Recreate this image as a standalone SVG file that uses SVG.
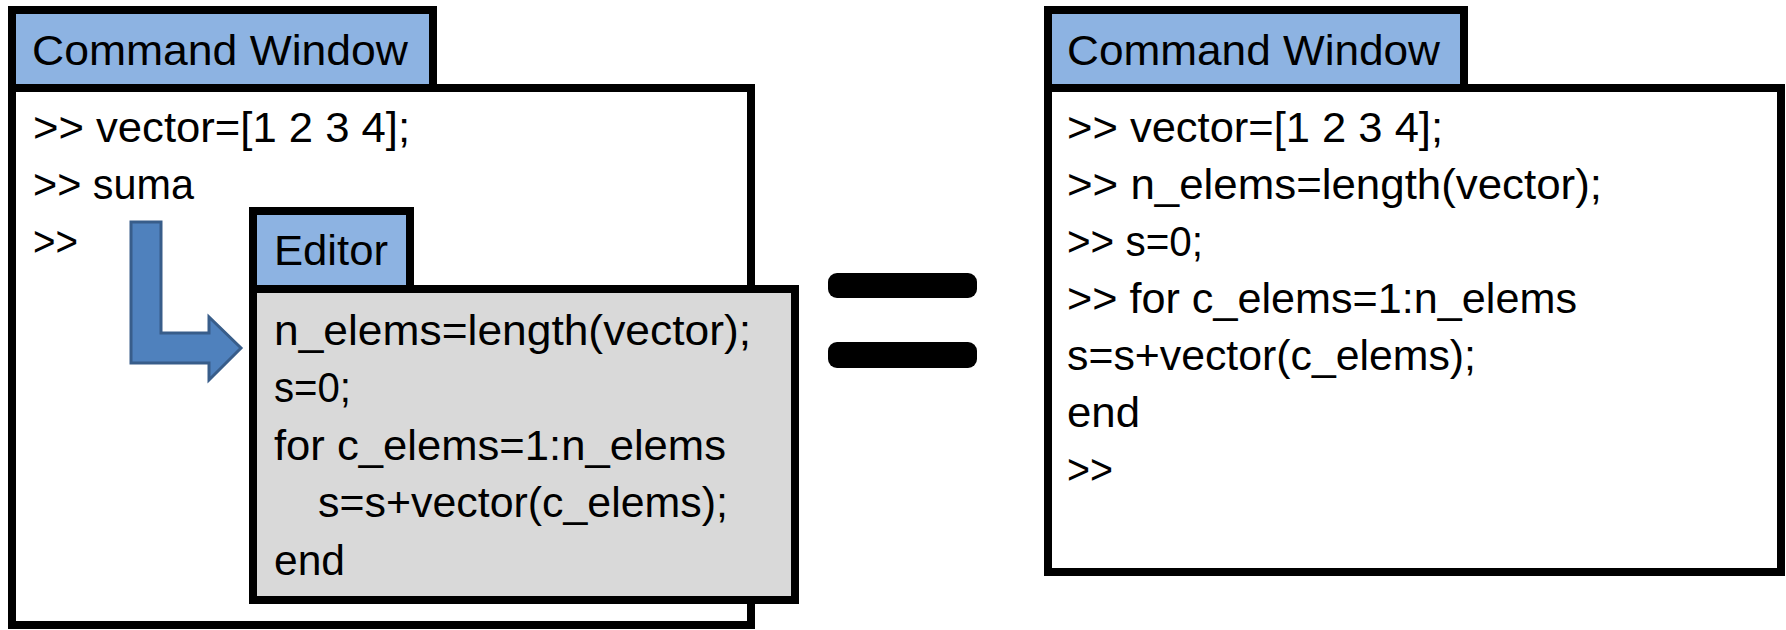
<svg xmlns="http://www.w3.org/2000/svg" width="1786" height="630" viewBox="0 0 1786 630">
<style>
.tab{fill:#8db3e2;stroke:#000;stroke-width:8}
.body{fill:#fff;stroke:#000;stroke-width:8}
.ebody{fill:#d9d9d9;stroke:#000;stroke-width:8}
text{font-family:"Liberation Sans",Arial,sans-serif;font-size:43px;fill:#000}
.eq{fill:#000}
</style>
<rect width="1786" height="630" fill="#fff"/>
<g id="left-command-window">
<rect class="tab" x="12" y="10" width="421" height="78"/>
<rect class="body" x="12" y="88" width="739" height="537"/>
<text x="32" y="65" textLength="376" lengthAdjust="spacingAndGlyphs">Command Window</text>
<text x="33" y="142" textLength="377" lengthAdjust="spacingAndGlyphs">&gt;&gt; vector=[1 2 3 4];</text>
<text x="33" y="199" textLength="161" lengthAdjust="spacingAndGlyphs">&gt;&gt; suma</text>
<text x="33" y="256" textLength="45" lengthAdjust="spacingAndGlyphs">&gt;&gt;</text>
</g>
<g id="editor">
<rect class="tab" x="253" y="211" width="157" height="78"/>
<rect class="ebody" x="253" y="289" width="542" height="311"/>
<text x="274" y="265" textLength="114" lengthAdjust="spacingAndGlyphs">Editor</text>
<text x="274" y="345" textLength="477" lengthAdjust="spacingAndGlyphs">n_elems=length(vector);</text>
<text x="274" y="402" textLength="77" lengthAdjust="spacingAndGlyphs">s=0;</text>
<text x="274" y="460" textLength="452" lengthAdjust="spacingAndGlyphs">for c_elems=1:n_elems</text>
<text x="318" y="517" textLength="410" lengthAdjust="spacingAndGlyphs">s=s+vector(c_elems);</text>
<text x="274" y="575" textLength="71" lengthAdjust="spacingAndGlyphs">end</text>
</g>
<g id="connectors">
<polygon points="131,222 161,222 161,333 209,333 209,317 241,348 209,380 209,363 131,363" fill="#4f81bd" stroke="#385d8a" stroke-width="3" stroke-linejoin="miter"/>
</g>
<g id="equals">
<rect class="eq" x="828" y="273" width="149" height="25" rx="9"/>
<rect class="eq" x="828" y="342" width="149" height="26" rx="9"/>
</g>
<g id="right-command-window">
<rect class="tab" x="1048" y="10" width="416" height="78"/>
<rect class="body" x="1048" y="88" width="733" height="484"/>
<text x="1067" y="65" textLength="373" lengthAdjust="spacingAndGlyphs">Command Window</text>
<text x="1067" y="142" textLength="376" lengthAdjust="spacingAndGlyphs">&gt;&gt; vector=[1 2 3 4];</text>
<text x="1067" y="199" textLength="535" lengthAdjust="spacingAndGlyphs">&gt;&gt; n_elems=length(vector);</text>
<text x="1067" y="256" textLength="136" lengthAdjust="spacingAndGlyphs">&gt;&gt; s=0;</text>
<text x="1067" y="313" textLength="510" lengthAdjust="spacingAndGlyphs">&gt;&gt; for c_elems=1:n_elems</text>
<text x="1067" y="370" textLength="409" lengthAdjust="spacingAndGlyphs">s=s+vector(c_elems);</text>
<text x="1067" y="427" textLength="73" lengthAdjust="spacingAndGlyphs">end</text>
<text x="1067" y="484" textLength="46" lengthAdjust="spacingAndGlyphs">&gt;&gt;</text>
</g>
</svg>
